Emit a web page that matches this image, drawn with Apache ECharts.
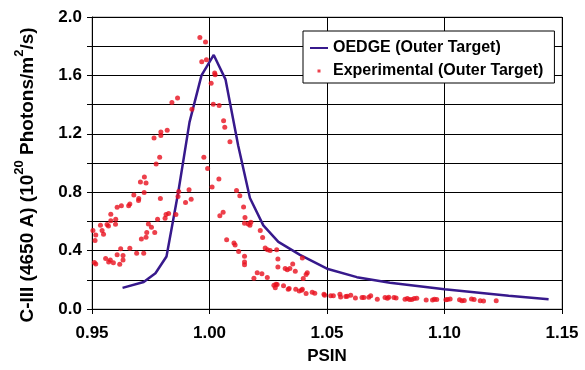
<!DOCTYPE html>
<html>
<head>
<meta charset="utf-8">
<script src="https://cdn.jsdelivr.net/npm/echarts@6/dist/echarts.min.js"></script>
<style>html,body{margin:0;padding:0;background:#fff}#c{width:585px;height:370px}</style>
</head>
<body>
<div id="c"></div>
<script>
var oedgePsin = [0.963,0.972,0.977,0.9817,0.9867,0.9915,0.9966,1.0018,1.0068,1.0122,1.0172,1.0229,1.0293,1.0385,1.05,1.0627,1.0768,1.10,1.1273,1.1443];
var oedgeVal  = [0.145,0.185,0.245,0.36,0.80,1.28,1.60,1.74,1.573,1.12,0.76,0.573,0.46,0.371,0.276,0.218,0.18,0.135,0.09,0.067];

var expPsin = [0.9864,0.9840,0.9820,0.9793,0.9793,0.9764,0.9788,0.9773,
0.9504,0.9516,0.9513,0.9536,0.9543,0.9549,0.9564,0.9570,0.9580,0.9580,0.9601,0.9600,0.9607,0.9625,0.9656,0.9661,0.9678,0.9699,0.9698,0.9706,0.9722,0.9723,0.9730,0.9791,
0.9510,0.9516,0.9558,0.9571,0.9578,0.9591,0.9607,0.9618,0.9622,0.9632,0.9632,0.9661,0.9690,0.9710,0.9720,0.9730,0.9733,0.9740,0.9753,0.9767,0.9779,0.9811,0.9815,0.9826,0.9857,0.9866,0.9869,0.9898,0.9913,
0.9959,0.9983,0.9967,0.9987,1.0022,1.0024,1.0007,0.9925,1.0016,1.0041,1.0060,1.0065,1.0087,0.9976,
0.9992,1.0040,1.0011,0.9922,1.0115,1.0129,1.0145,1.0151,1.0149,1.0165,1.0172,1.0176,1.0044,1.0058,1.0216,1.0226,1.0073,1.0104,1.0109,1.0124,1.0149,1.0149,1.0149,1.0237,1.0247,1.0258,1.0286,1.0291,1.0291,1.0203,1.0223,1.0189,1.0246,1.0322,1.0331,1.0342,1.0354,1.0365,1.0274,1.0283,1.0288,1.0280,1.0315,1.0335,1.0339,1.0367,1.0382,
1.0395,1.0416,1.0411,1.0399,1.0392,1.0395,1.0411,1.0437,1.0448,1.0487,1.0490,1.0516,1.0527,1.0555,1.0558,1.0580,1.0586,1.0601,1.0621,1.0649,1.0657,1.0678,1.0686,1.0714,1.0747,1.0757,1.0763,1.0785,1.0794,1.0832,1.0842,1.0851,1.0861,1.0871,1.0882,1.0922,1.0949,1.0957,1.0967,
1.1006,1.1013,1.1024,1.1064,1.1074,1.1084,1.1115,1.1126,1.1152,1.1166,1.1220];
var expVal = [1.445,1.414,1.225,1.212,1.189,1.171,1.040,0.993,
0.537,0.506,0.470,0.573,0.537,0.512,0.578,0.568,0.605,0.649,0.614,0.580,0.697,0.708,0.708,0.719,0.780,0.757,0.744,0.870,0.798,0.904,0.863,0.757,
0.319,0.308,0.346,0.322,0.335,0.317,0.371,0.306,0.413,0.366,0.335,0.416,0.382,0.479,0.382,0.492,0.524,0.582,0.560,0.524,0.614,0.622,0.647,0.654,0.647,0.771,0.805,0.730,0.816,
1.859,1.829,1.693,1.708,1.616,1.605,1.546,1.369,1.403,1.394,1.290,1.245,1.146,1.040,
0.962,0.890,0.836,0.751,0.811,0.775,0.699,0.627,0.587,0.582,0.573,0.595,0.639,0.663,0.537,0.490,0.474,0.452,0.438,0.393,0.362,0.322,0.303,0.418,0.405,0.400,0.405,0.342,0.288,0.249,0.241,0.211,0.216,0.278,0.268,0.278,0.308,0.258,0.162,0.169,0.167,0.146,0.160,0.135,0.140,0.135,0.123,
0.349,0.249,0.236,0.209,0.128,0.135,0.106,0.115,0.108,0.101,0.094,0.090,0.090,0.101,0.083,0.086,0.088,0.094,0.076,0.079,0.079,0.081,0.090,0.067,0.079,0.074,0.081,0.079,0.076,0.067,0.072,0.065,0.065,0.072,0.074,0.061,0.061,0.067,0.065,
0.063,0.065,0.069,0.063,0.056,0.059,0.069,0.065,0.056,0.054,0.056];

var seriesNames = ['OEDGE (Outer Target)', 'Experimental (Outer Target)'];
var xAxisTitle = 'PSIN';

function pairs(a, b) { var r = []; for (var i = 0; i < a.length; i++) r.push([a[i], b[i]]); return r; }

var FONT = '"Liberation Sans", Arial, sans-serif';
var chart = echarts.init(document.getElementById('c'), null, {renderer: 'canvas'});
chart.setOption({
  animation: false,
  backgroundColor: '#fff',
  grid: {left: 92, right: 23, top: 17, bottom: 55, show: true, borderColor: '#999', borderWidth: 1, backgroundColor: 'transparent'},
  legend: {
    orient: 'vertical', left: 303, top: 31,
    padding: [9, 11, 4, 7], itemGap: 7, itemWidth: 18, itemHeight: 16,
    backgroundColor: '#fff', borderColor: '#000', borderWidth: 1, borderRadius: 0,
    textStyle: {fontFamily: FONT, fontWeight: 'bold', fontSize: 16, color: '#000'},
    data: [
      {name: seriesNames[0], icon: 'path://M0,0M18,16M0,7L18,7L18,9L0,9Z', itemStyle: {color: '#37198c'}},
      {name: seriesNames[1], icon: 'path://M0,0M18,16M7.5,6.5L10.5,6.5L10.5,9.5L7.5,9.5Z'}
    ]
  },
  xAxis: {
    type: 'value', min: 0.95, max: 1.15, interval: 0.05,
    name: xAxisTitle, nameLocation: 'middle', nameGap: 39,
    nameTextStyle: {fontFamily: FONT, fontWeight: 'bold', fontSize: 17, color: '#000'},
    axisLine: {onZero: false, lineStyle: {color: '#000', width: 1}},
    axisTick: {show: true, inside: false, length: 5, lineStyle: {color: '#000'}},
    axisLabel: {margin: 16, fontFamily: FONT, fontWeight: 'bold', fontSize: 17, color: '#000',
      formatter: function (v) { return v.toFixed(2); }},
    splitLine: {show: true, lineStyle: {color: '#000', width: 1}}
  },
  yAxis: {
    type: 'value', min: 0, max: 2, interval: 0.2,
    name: '{n|C-III (4650 A) (10}{s|20}{n| Photons/m}{s|2}{e|/s)}',
    nameLocation: 'middle', nameRotate: 90, nameGap: 55,
    nameTextStyle: {
      fontFamily: FONT, fontWeight: 'bold', fontSize: 19, color: '#000',
      rich: {
        n: {fontFamily: FONT, fontWeight: 'bold', fontSize: 19, color: '#000', lineHeight: 24, verticalAlign: 'bottom'},
        e: {fontFamily: FONT, fontWeight: 'bold', fontSize: 19, color: '#000', lineHeight: 24, verticalAlign: 'bottom', padding: [0, 24, 0, 0]},
        s: {fontFamily: FONT, fontWeight: 'bold', fontSize: 13, color: '#000', lineHeight: 24, verticalAlign: 'top', padding: [0, 0, 8, 0]}
      }
    },
    axisLine: {show: true, lineStyle: {color: '#000', width: 1}},
    axisTick: {show: true, inside: false, length: 5, lineStyle: {color: '#000'}},
    axisLabel: {margin: 10, fontFamily: FONT, fontWeight: 'bold', fontSize: 17, color: '#000',
      formatter: function (v) { return Math.round(v * 10) % 4 === 0 ? v.toFixed(1) : ''; }},
    splitLine: {show: true, lineStyle: {color: '#000', width: 1}}
  },
  series: [
    {
      name: seriesNames[0], type: 'line', data: pairs(oedgePsin, oedgeVal),
      symbol: 'none', showSymbol: false, z: 3,
      lineStyle: {color: '#37198c', width: 2.5}, itemStyle: {color: '#37198c'}
    },
    {
      name: seriesNames[1], type: 'scatter', data: pairs(expPsin, expVal),
      symbol: 'circle', symbolSize: 5, z: 4,
      itemStyle: {color: '#e8101e'}
    }
  ]
});
</script>
</body>
</html>
